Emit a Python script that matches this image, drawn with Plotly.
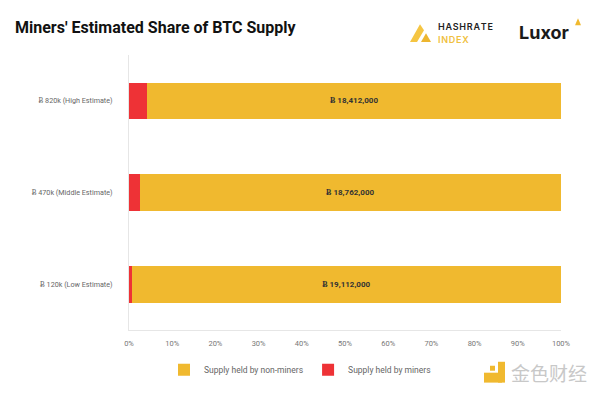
import plotly.graph_objects as go

categories = ["Ƀ 120k (Low Estimate)", "Ƀ 470k (Middle Estimate)", "Ƀ 820k (High Estimate)"]
miners = [120000, 470000, 820000]
non_miners = [19112000, 18762000, 18412000]
x_ticks = [0, 10, 20, 30, 40, 50, 60, 70, 80, 90, 100]

totals = [m + n for m, n in zip(miners, non_miners)]
miners_pct = [m / t * 100 for m, t in zip(miners, totals)]
non_pct = [n / t * 100 for n, t in zip(non_miners, totals)]
non_labels = ["Ƀ {:,}".format(v) for v in non_miners]

YELLOW = "#F0B92F"
RED = "#EE3236"

L, R, T, B = 129, 39, 55, 64
W, H = 600, 396
PW, PH = W - L - R, H - T - B


def px(x):
    return (x - L) / PW


def py(y):
    return (H - B - y) / PH


fig = go.Figure()
fig.add_trace(go.Bar(
    y=categories, x=miners_pct, orientation="h", name="Supply held by miners",
    marker=dict(color=RED, line=dict(width=0)), legendrank=2,
    hoverinfo="skip",
))
fig.add_trace(go.Bar(
    y=categories, x=non_pct, orientation="h", name="Supply held by non-miners",
    marker=dict(color=YELLOW, line=dict(width=0)), legendrank=1,
    text=non_labels, textposition="inside", insidetextanchor="middle",
    textfont=dict(family="Roboto", size=8, color="#333", weight="bold"),
    hoverinfo="skip",
))

fig.update_layout(
    width=W, height=H,
    margin=dict(l=L, r=R, t=T, b=B),
    barmode="stack", bargap=0.6,
    plot_bgcolor="white", paper_bgcolor="white",
    font=dict(family="Roboto", color="#666"),
    title=dict(text="<b>Miners' Estimated Share of BTC Supply</b>", x=15 / W, xanchor="left",
               y=1 - 27 / H, yanchor="middle",
               font=dict(family="Roboto", size=16, color="#111")),
    xaxis=dict(range=[0, 100], tickvals=x_ticks, ticktext=[f"{v}%" for v in x_ticks],
               showgrid=False, zeroline=False, showline=True, linecolor="#e6e6e6", linewidth=1,
               ticks="outside", ticklen=6, tickcolor="rgba(0,0,0,0)",
               tickfont=dict(size=7.5, color="#777"), fixedrange=True, automargin=False),
    yaxis=dict(showgrid=False, zeroline=False, showline=True, linecolor="#e6e6e6", linewidth=1,
               ticks="outside", ticklen=14, tickcolor="rgba(0,0,0,0)",
               tickfont=dict(size=7.2, color="#666"), range=[-0.5, 2.5], automargin=False,
               fixedrange=True),
    legend=dict(orientation="h", x=px(300), xanchor="center", y=py(372), yanchor="middle",
                font=dict(size=8.5, color="#666"), itemsizing="constant", traceorder="normal",
                itemwidth=30),
    showlegend=True,
)

# Hashrate Index logo
fig.add_shape(type="path", xref="paper", yref="paper",
              path=f"M {px(410)},{py(42)} L {px(420)},{py(24)} L {px(424)},{py(30)} L {px(417)},{py(42)} Z",
              fillcolor="#F5C542", line=dict(width=0))
fig.add_shape(type="path", xref="paper", yref="paper",
              path=f"M {px(421)},{py(42)} L {px(426)},{py(33)} L {px(431)},{py(42)} Z",
              fillcolor="#EDB62F", line=dict(width=0))
hs = "\u200a"
fig.add_annotation(text=hs.join("HASHRATE"), xref="paper", yref="paper", x=px(436), y=py(26),
                   xanchor="left", yanchor="middle", showarrow=False,
                   font=dict(family="Inter", size=9, color="#222", weight=600))
fig.add_annotation(text=hs.join("INDEX"), xref="paper", yref="paper", x=px(436), y=py(39),
                   xanchor="left", yanchor="middle", showarrow=False,
                   font=dict(family="Inter", size=9, color="#F0C040", weight=600))
# Luxor logo
fig.add_annotation(text="<b>Luxor</b>", xref="paper", yref="paper", x=px(517), y=py(32),
                   xanchor="left", yanchor="middle", showarrow=False,
                   font=dict(family="Inter", size=18, color="#1a1a1a"))
fig.add_shape(type="path", xref="paper", yref="paper",
              path=f"M {px(575)},{py(25)} L {px(578)},{py(18)} L {px(581)},{py(25)} Z",
              fillcolor="#F0B92F", line=dict(width=0))

# watermark
fig.add_shape(type="rect", xref="paper", yref="paper", x0=px(484), x1=px(502), y0=py(385), y1=py(375),
              fillcolor="#F0B92F", line=dict(width=0))
fig.add_shape(type="rect", xref="paper", yref="paper", x0=px(498), x1=px(505), y0=py(385), y1=py(364),
              fillcolor="#F0B92F", line=dict(width=0))
fig.add_shape(type="rect", xref="paper", yref="paper", x0=px(490), x1=px(495), y0=py(373), y1=py(368),
              fillcolor="#F0B92F", line=dict(width=0))
fig.add_annotation(text="金色财经", xref="paper", yref="paper", x=px(509), y=py(375),
                   xanchor="left", yanchor="middle", showarrow=False,
                   font=dict(family="Noto Sans CJK SC", size=19, color="#c8c8c8"))

fig.write_html("out.html", config={"displayModeBar": False},
               post_script="document.body.style.margin='0';")
